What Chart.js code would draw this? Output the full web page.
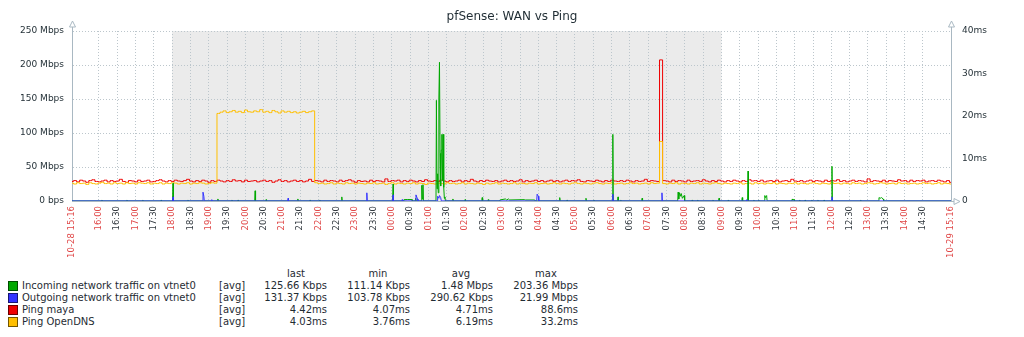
<!DOCTYPE html>
<html>
<head>
<meta charset="utf-8">
<script src="https://cdn.jsdelivr.net/npm/chart.js@4.4.1/dist/chart.umd.min.js"></script>
<style>
  body { margin: 0; background: #fff; }
  #wrap { position: relative; width: 1024px; height: 337px; font-family: "DejaVu Sans", sans-serif; color: #1f2c33; }
  #grafico { display: block; }
  .lg { position: absolute; font-size: 10px; line-height: 12px; white-space: nowrap; }
  .sq { position: absolute; width: 8px; height: 8px; border: 1px solid rgba(0,0,0,0.55); }
</style>
</head>
<body>
<div id="wrap">
  <canvas id="grafico" width="1024" height="262"></canvas>
  <div id="legenda"></div>
</div>
<script>
// eixo X: minutos desde 10-28 15:16
const tickLabels = ['16:00','16:30','17:00','17:30','18:00','18:30','19:00','19:30','20:00','20:30','21:00','21:30',
  '22:00','22:30','23:00','23:30','00:00','00:30','01:00','01:30','02:00','02:30','03:00','03:30',
  '04:00','04:30','05:00','05:30','06:00','06:30','07:00','07:30','08:00','08:30','09:00','09:30',
  '10:00','10:30','11:00','11:30','12:00','12:30','13:00','13:30','14:00','14:30'];
const startLabel = '10-28 15:16';
const endLabel = '10-29 15:16';

// ping a cada 5 minutos (ms)
const pingMaya = [
  4.6,4.8,4.5,4.9,4.7,4.4,4.8,5.0,4.6,4.5,4.7,4.9,
  4.5,4.8,4.6,4.7,5.1,4.6,4.4,4.8,4.7,4.5,4.9,4.6,
  4.7,4.9,4.5,4.6,4.8,5.0,4.7,4.5,4.8,4.6,4.9,4.7,
  4.6,4.8,5.1,4.7,4.5,4.8,4.6,4.9,4.7,4.4,4.8,4.6,
  4.9,4.7,4.5,4.8,4.6,5.0,4.7,4.8,4.5,4.9,4.6,4.7,
  4.8,4.5,4.7,4.9,4.6,4.8,4.4,4.7,5.0,4.6,4.8,4.5,
  4.7,4.9,4.6,4.8,4.5,4.7,5.1,4.6,4.8,4.7,4.5,4.9,
  4.6,4.8,4.7,4.5,4.9,4.6,4.8,5.0,4.7,4.4,4.8,4.6,
  4.7,4.5,4.9,4.6,4.8,4.7,4.5,5.2,4.6,4.8,4.7,4.9,
  4.5,4.8,4.6,4.9,4.7,4.5,4.8,4.6,5.0,4.7,4.6,4.8,
  4.6,4.9,4.7,4.5,4.8,4.6,4.7,4.9,4.5,4.8,4.6,5.1,
  4.7,4.5,4.8,4.6,4.9,4.7,4.6,4.8,4.5,4.7,4.9,4.6,
  4.8,4.6,4.7,5.0,4.5,4.8,4.6,4.7,4.9,4.6,4.8,4.5,
  4.7,4.9,4.6,4.8,4.5,4.7,4.9,4.6,4.8,4.7,5.0,4.6,
  4.5,4.8,4.7,4.6,4.9,4.7,4.5,4.8,4.6,4.9,4.7,4.6,
  4.8,4.6,4.9,4.7,4.5,4.8,4.6,4.7,5.1,4.6,4.8,4.7,
  4.6,33.2,4.8,4.7,4.5,4.9,4.6,4.8,4.7,4.5,4.9,4.6,
  4.7,4.8,4.6,5.0,4.7,4.5,4.8,4.6,4.9,4.7,4.5,4.8,
  4.6,4.9,4.7,4.5,4.8,4.6,5.0,4.7,4.8,4.6,4.9,4.5,
  4.7,4.8,4.6,4.9,4.5,4.7,4.8,4.6,5.1,4.7,4.6,4.8,
  4.5,4.7,4.9,4.6,4.8,4.7,4.5,4.9,4.6,4.8,4.7,5.0,
  4.6,4.8,4.5,4.7,4.9,4.6,4.8,4.7,4.5,5.2,4.6,4.8,
  4.7,4.6,4.9,4.5,4.8,4.7,4.6,5.0,4.7,4.8,4.5,4.9,
  4.6,4.8,4.7,4.9,4.5,4.7,4.8,4.6,4.9,4.7,4.5,4.8,
  4.4
];
const pingOpenDNS = [
  4.2,4.0,4.3,4.1,4.2,3.9,4.3,4.1,4.0,4.2,4.4,4.1,
  4.2,4.0,4.3,4.1,4.2,4.0,4.3,4.1,4.2,4.0,4.3,4.2,
  4.1,4.3,4.0,4.2,4.1,4.3,4.0,4.2,4.1,4.3,4.2,4.0,
  4.2,4.1,4.3,4.0,4.2,4.1,4.3,4.2,4.0,4.1,4.3,4.2,
  20.6,20.9,21.2,20.8,21.0,21.3,20.9,21.1,20.8,21.4,21.0,20.9,
  21.2,21.0,21.5,20.9,21.1,20.8,21.3,21.0,20.7,21.2,20.9,21.1,
  20.8,21.0,20.7,20.9,21.1,20.8,21.0,21.2,4.3,4.1,4.2,4.0,
  4.1,4.3,4.0,4.2,4.1,4.0,4.3,4.1,4.2,4.0,4.2,4.1,
  4.0,4.2,4.1,4.3,4.0,4.1,4.2,3.9,4.1,4.3,4.0,4.2,
  4.1,4.0,4.2,4.1,4.3,4.0,4.2,4.1,3.9,4.2,4.1,4.0,
  4.2,4.1,4.0,4.3,4.1,4.2,4.0,4.1,4.3,4.0,4.2,4.1,
  4.0,4.2,4.1,3.9,4.2,4.0,4.1,4.3,4.0,4.2,4.1,4.0,
  4.1,4.3,4.0,4.2,4.1,4.0,4.2,4.1,4.3,4.0,4.1,4.2,
  4.0,4.1,4.3,4.1,4.0,4.2,4.1,4.0,4.2,4.3,4.1,4.0,
  4.2,4.1,4.0,4.2,4.3,4.1,4.0,4.2,4.1,4.3,4.0,4.1,
  4.2,4.0,4.1,4.3,4.1,4.2,4.0,4.1,4.2,4.0,4.3,4.1,
  4.2,14.0,4.1,4.0,4.2,4.1,4.3,4.0,4.2,4.1,4.0,4.2,
  4.1,4.3,4.0,4.2,4.1,4.0,4.2,4.3,4.1,4.0,4.2,4.1,
  4.0,4.2,4.1,4.3,4.0,4.1,4.2,4.0,4.3,4.1,4.2,4.0,
  4.2,4.1,4.3,4.0,4.2,4.1,4.0,4.2,4.1,4.3,4.0,4.2,
  4.1,4.0,4.2,4.3,4.1,4.0,4.2,4.1,4.0,4.3,4.1,4.2,
  4.0,4.2,4.1,4.0,4.3,4.1,4.2,4.0,4.1,4.3,4.2,4.0,
  4.1,4.3,4.2,4.0,4.1,4.2,4.0,4.3,4.1,4.2,4.0,4.1,
  4.2,4.0,4.1,4.3,4.1,4.2,4.0,4.1,4.3,4.0,4.2,4.1,
  4.0
];

// tráfego: [minuto, Mbps]
const inTraffic = [
  [0,0.12],[48.3,0.12],[49,1.5],[49.7,0.12],[89.3,0.12],[90,1.5],[90.7,0.12],
  [115.3,0.12],[116,1.5],[116.7,0.12],[145.3,0.12],[146,1.5],[146.7,0.12],
  [164.8,0.12],[165.5,26],[166.2,0.12],[189.3,0.12],[190,1.5],[190.7,0.12],
  [238.3,0.12],[239,3],[239.7,0.12],[261.3,0.12],[262,1.5],[262.7,0.12],
  [271.3,0.12],[272,1.5],[272.7,0.12],[299.3,0.12],[300,15],[300.7,0.12],
  [317.3,0.12],[318,2],[318.7,0.12],[369.3,0.12],[370,3],[370.7,0.12],
  [389.3,0.12],[390,1.5],[390.7,0.12],[405.3,0.12],[406,1.5],[406.7,0.12],
  [441.3,0.12],[442,6],[442.7,0.12],[525.3,0.12],[526,25],[526.7,0.12],
  [543.5,0.12],[544,2],[550,2.2],[557,2],[557.5,0.12],
  [562.3,0.12],[563,4],[563.7,0.12],
  [572.3,0.12],[573,23],[574,3],[575,24],[575.7,0.12],
  [596.3,0.12],[597,148],[598,18],[599,40],[600,12],[601,150],[602,204],[603,70],[604,22],
  [605,75],[606,98],[607,30],[608,98],[609,20],[610,4],[611,6],[611.7,0.12],
  [623.3,0.12],[624,3],[624.7,0.12],[643.3,0.12],[644,2],[644.7,0.12],
  [671.3,0.12],[672,5],[672.7,0.12],[681.3,0.12],[682,2],[682.7,0.12],
  [700.5,0.12],[701,1.5],[710,3],[712,1.5],[715,3],[717,1.5],[741,2],[743,1.5],[758,1.5],[758.5,0.12],
  [798.3,0.12],[799,5],[799.7,0.12],[810.3,0.12],[811,1.5],[811.7,0.12],
  [841.3,0.12],[842,4],[842.7,0.12],[854.3,0.12],[855,1.5],[855.7,0.12],
  [885.3,0.12],[886,98],[886.7,0.12],[893.8,0.12],[894.5,6],[895.2,0.12],
  [898.3,0.12],[899,1.5],[899.7,0.12],[933.3,0.12],[934,4],[934.7,0.12],
  [992.3,0.12],[993,13],[994,3],[995,12],[997,7],[998,11],[1000,4],[1003,8],[1003.7,0.12],
  [1015.3,0.12],[1016,1.5],[1016.7,0.12],[1024.3,0.12],[1025,1.5],[1025.7,0.12],
  [1049.3,0.12],[1050,1.5],[1050.7,0.12],[1059.3,0.12],[1060,4],[1060.7,0.12],
  [1074.3,0.12],[1075,1.5],[1075.7,0.12],[1097.3,0.12],[1098,5],[1098.7,0.12],
  [1106.8,0.12],[1107.5,44],[1108.2,0.12],[1116.3,0.12],[1117,1.5],[1117.7,0.12],
  [1124.3,0.12],[1125,1.5],[1125.7,0.12],
  [1134.3,0.12],[1135,8],[1136,5],[1138,8],[1138.7,0.12],
  [1179.3,0.12],[1180,3],[1181,1],[1183,2],[1183.7,0.12],
  [1191.3,0.12],[1192,1.5],[1192.7,0.12],[1200.3,0.12],[1201,1.5],[1201.7,0.12],
  [1211.3,0.12],[1212,1.5],[1212.7,0.12],[1221.3,0.12],[1222,1.5],[1222.7,0.12],
  [1231.3,0.12],[1232,1.5],[1232.7,0.12],[1244.3,0.12],[1245,51],[1245.7,0.12],
  [1291.3,0.12],[1292,1.5],[1292.7,0.12],
  [1321.3,0.12],[1322,5],[1324,4],[1326,5],[1329,3],[1329.7,0.12],
  [1440,0.12]
];
const outTraffic = [
  [0,0.13],[164.8,0.13],[165.5,6],[166.2,0.13],
  [213.9,0.13],[214.6,13],[216,7],[216.7,0.13],[228.3,0.13],[229,2],[229.7,0.13],
  [353.3,0.13],[354,4],[354.7,0.13],[482.3,0.13],[483,12],[483.7,0.13],
  [525.3,0.13],[526,9],[526.7,0.13],[540.3,0.13],[541,2],[541.7,0.13],
  [562.8,0.13],[563.5,9],[566,3],[566.7,0.13],
  [598,0.13],[599,7],[601,4],[602,8],[604,5],[605,0.13],
  [761.3,0.13],[762,10],[764,7],[764.7,0.13],[885.3,0.13],[886,10],[886.7,0.13],
  [965.8,0.13],[966.5,12],[967.2,0.13],[1104.3,0.13],[1105,2],[1105.7,0.13],
  [1244.3,0.13],[1245,6],[1245.7,0.13],[1440,0.13]
];

// legenda
const seriesNames = ['Incoming network traffic on vtnet0','Outgoing network traffic on vtnet0','Ping maya','Ping OpenDNS'];
const statLast = ['125.66 Kbps','131.37 Kbps','4.42ms','4.03ms'];
const statMin = ['111.14 Kbps','103.78 Kbps','4.07ms','3.76ms'];
const statAvg = ['1.48 Mbps','290.62 Kbps','4.71ms','6.19ms'];
const statMax = ['203.36 Mbps','21.99 Mbps','88.6ms','33.2ms'];

const cores = ['#00a800', '#3333ff', '#ee0000', '#ffbf00'];
const corEixo = '#a9b8c2';
const corGrade = '#bcc6cc';

function minutos(lbl) {
  const [h, m] = lbl.split(':').map(Number);
  let t = h * 60 + m - (15 * 60 + 16);
  if (t < 0) t += 1440;
  return t;
}
const tickValues = [0, ...tickLabels.map(minutos), 1440];
const tickText = {};
tickText[0] = startLabel;
tickText[1440] = endLabel;
tickLabels.forEach(l => tickText[minutos(l)] = l);

const ping = arr => arr.map((v, i) => ({ x: i * 5, y: v }));
const pares = arr => arr.map(p => ({ x: p[0], y: p[1] }));

// sombreado noturno 18:00 - 09:00 e setas dos eixos
const fundoNoite = {
  id: 'fundoNoite',
  beforeDraw(chart) {
    const { ctx, chartArea: a, scales: { x } } = chart;
    const x1 = x.getPixelForValue(minutos('18:00'));
    const x2 = x.getPixelForValue(minutos('09:00'));
    ctx.save();
    ctx.fillStyle = '#ebebeb';
    ctx.fillRect(x1, a.top, x2 - x1, a.bottom - a.top);
    ctx.restore();
  },
  afterDraw(chart) {
    const { ctx, chartArea: a } = chart;
    ctx.save();
    ctx.strokeStyle = corEixo;
    ctx.fillStyle = '#fff';
    ctx.lineWidth = 1;
    [a.left, a.right].forEach(px => {
      const cx = Math.round(px) + 0.5;
      ctx.beginPath();
      ctx.moveTo(cx, a.top);
      ctx.lineTo(cx, a.top - 4);
      ctx.stroke();
      ctx.beginPath();
      ctx.moveTo(cx - 3, a.top - 4);
      ctx.lineTo(cx, a.top - 10);
      ctx.lineTo(cx + 3, a.top - 4);
      ctx.closePath();
      ctx.fill();
      ctx.stroke();
    });
    const cy = Math.round(a.bottom) + 0.5;
    ctx.beginPath();
    ctx.moveTo(a.right, cy);
    ctx.lineTo(a.right + 3, cy);
    ctx.stroke();
    ctx.beginPath();
    ctx.moveTo(a.right + 3, cy - 3);
    ctx.lineTo(a.right + 9, cy);
    ctx.lineTo(a.right + 3, cy + 3);
    ctx.closePath();
    ctx.fill();
    ctx.stroke();
    ctx.restore();
  }
};

const fonte = { family: 'DejaVu Sans', size: 9 };

new Chart(document.getElementById('grafico'), {
  type: 'line',
  data: {
    datasets: [
      { label: seriesNames[0], data: pares(inTraffic), yAxisID: 'y', borderColor: cores[0], order: 1 },
      { label: seriesNames[1], data: pares(outTraffic), yAxisID: 'y', borderColor: cores[1], order: 0 },
      { label: seriesNames[2], data: ping(pingMaya), yAxisID: 'y1', borderColor: cores[2], order: 3, stepped: 'middle' },
      { label: seriesNames[3], data: ping(pingOpenDNS), yAxisID: 'y1', borderColor: cores[3], order: 2, stepped: 'middle' }
    ]
  },
  options: {
    responsive: false,
    animation: false,
    parsing: false,
    elements: {
      line: { borderWidth: 1, tension: 0, fill: false },
      point: { radius: 0 }
    },
    layout: { padding: 0 },
    plugins: {
      legend: { display: false },
      tooltip: { enabled: false },
      title: {
        display: true,
        text: 'pfSense: WAN vs Ping',
        color: '#1f2c33',
        font: { family: 'DejaVu Sans', size: 12, weight: 'normal' },
        padding: { top: 10, bottom: 6.6 }
      }
    },
    scales: {
      x: {
        type: 'linear',
        min: 0,
        max: 1440,
        afterBuildTicks: s => { s.ticks = tickValues.map(v => ({ value: v })); },
        afterFit: s => { s.height = 61; },
        ticks: {
          autoSkip: false,
          minRotation: 90,
          maxRotation: 90,
          padding: 5,
          font: { family: 'DejaVu Sans', size: 8.5 },
          color: c => {
            const l = tickText[c.tick.value] || '';
            return (l.endsWith(':30') && l.length === 5) ? '#333a40' : '#e04848';
          },
          callback: v => tickText[v]
        },
        grid: {
          drawTicks: false,
          color: c => (c.tick.value === 0 || c.tick.value === 1440) ? 'rgba(0,0,0,0)' : corGrade
        },
        border: { color: corEixo, dash: [1, 2] }
      },
      y: {
        position: 'left',
        min: 0,
        max: 250,
        afterFit: s => { s.width = 72; },
        ticks: {
          stepSize: 50,
          padding: 8,
          color: '#1f2c33',
          font: fonte,
          callback: v => v === 0 ? '0 bps' : v + ' Mbps'
        },
        grid: {
          drawTicks: false,
          color: c => c.tick.value === 0 ? 'rgba(0,0,0,0)' : corGrade
        },
        border: { color: corEixo, dash: [1, 2] }
      },
      y1: {
        position: 'right',
        min: 0,
        max: 40,
        afterFit: s => { s.width = 73; },
        ticks: {
          stepSize: 10,
          padding: 11,
          color: '#1f2c33',
          font: fonte,
          callback: v => v === 0 ? '0' : v + 'ms'
        },
        grid: { drawOnChartArea: false, drawTicks: false },
        border: { color: corEixo }
      }
    }
  },
  plugins: [fundoNoite]
});

// legenda em HTML
const leg = document.getElementById('legenda');
function span(txt, left, top, width, align) {
  const s = document.createElement('span');
  s.className = 'lg';
  s.textContent = txt;
  s.style.left = left + 'px';
  s.style.top = top + 'px';
  if (width) { s.style.width = width + 'px'; s.style.textAlign = align; }
  leg.appendChild(s);
}
const colRight = [327, 410, 493, 578];
const colHead = ['last', 'min', 'avg', 'max'];
const colHeadCenter = [296, 378, 461, 546];
colHead.forEach((h, i) => span(h, colHeadCenter[i] - 30, 268, 60, 'center'));
const stats = [statLast, statMin, statAvg, statMax];
seriesNames.forEach((nome, r) => {
  const cy = 286 + r * 12;
  const q = document.createElement('div');
  q.className = 'sq';
  q.style.left = '8px';
  q.style.top = (cy - 5) + 'px';
  q.style.background = cores[r];
  leg.appendChild(q);
  span(nome, 22, cy - 6);
  span('[avg]', 219, cy - 6);
  stats.forEach((st, c) => span(st[r], colRight[c] - 100, cy - 6, 100, 'right'));
});
</script>
</body>
</html>
